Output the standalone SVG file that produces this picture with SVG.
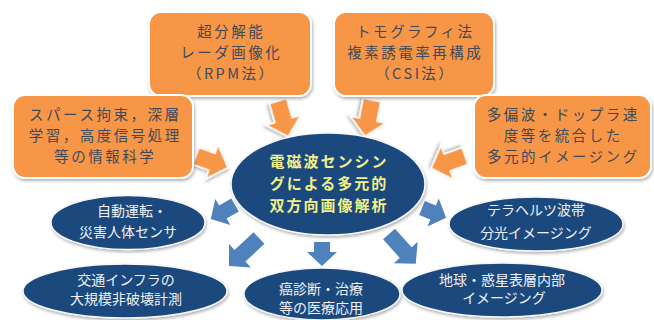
<svg xmlns="http://www.w3.org/2000/svg" width="654" height="320" viewBox="0 0 654 320">
<defs>
<filter id="sh" x="-10%" y="-10%" width="125%" height="130%">
<feDropShadow dx="1" dy="2" stdDeviation="1.5" flood-color="#000" flood-opacity="0.3"/>
</filter>
<style>
.box{fill:#f79646;stroke:#fff;stroke-width:2;filter:url(#sh)}
.ell{fill:#1f497d;stroke:#f4f6f9;stroke-width:1.5;filter:url(#sh)}
.oa{fill:#f79646;stroke:#fff;stroke-width:1.5;filter:url(#sh)}
.ba{fill:#4f81bd;stroke:none}
.t{font-family:"Noto Sans CJK JP","Noto Sans",sans-serif;text-anchor:middle}
.to{font-size:14.5px;letter-spacing:2.5px;fill:#3e4a5a}
.tc{font-size:15px;letter-spacing:2px;font-weight:bold;fill:#f3f08a}
.tb{font-size:14px;fill:#edf1f6}
</style>
</defs>
<rect width="654" height="320" fill="#fff"/>
<g id="connectors">
<polygon class="oa" transform="translate(278,101) rotate(74)" points="0,-9 20,-9 20,-18 37,0 20,18 20,9 0,9"/>
<polygon class="oa" transform="translate(372,100) rotate(101)" points="0,-9 20,-9 20,-18 37,0 20,18 20,9 0,9"/>
<polygon class="oa" transform="translate(196,156) rotate(20)" points="0,-9 17,-9 17,-18 34,0 17,18 17,9 0,9"/>
<polygon class="oa" transform="translate(465,156) rotate(160)" points="0,-9 19,-9 19,-18 36,0 19,18 19,9 0,9"/>
<polygon class="ba" transform="translate(235,205) rotate(150)" points="0,-7.5 14,-7.5 14,-15 28,0 14,15 14,7.5 0,7.5"/>
<polygon class="ba" transform="translate(259,238) rotate(137)" points="0,-8 26,-8 26,-16 41,0 26,16 26,8 0,8"/>
<polygon class="ba" transform="translate(322,242) rotate(90)" points="0,-8 10,-8 10,-15 24,0 10,15 10,8 0,8"/>
<polygon class="ba" transform="translate(389,234) rotate(48)" points="0,-8 25,-8 25,-16 40,0 25,16 25,8 0,8"/>
<polygon class="ba" transform="translate(422,208) rotate(22)" points="0,-7.5 12,-7.5 12,-15 26,0 12,15 12,7.5 0,7.5"/>
</g>
<g id="box-rpm">
<rect class="box" x="149" y="12" width="162" height="84" rx="12"/>
<text class="t to" x="231.25" y="36.5">超分解能</text>
<text class="t to" x="231.25" y="57.5">レーダ画像化</text>
<text class="t to" x="231.25" y="78.5">（RPM法）</text>
</g>
<g id="box-csi">
<rect class="box" x="334" y="12" width="160" height="84" rx="12"/>
<text class="t to" x="415.25" y="36.5">トモグラフィ法</text>
<text class="t to" x="415.25" y="57.5">複素誘電率再構成</text>
<text class="t to" x="415.25" y="78.5">（CSI法）</text>
</g>
<g id="box-sparse">
<rect class="box" x="13" y="95" width="180" height="83" rx="12"/>
<text class="t to" x="105.25" y="119.5">スパース拘束，深層</text>
<text class="t to" x="105.25" y="140.5">学習，高度信号処理</text>
<text class="t to" x="105.25" y="161.5">等の情報科学</text>
</g>
<g id="box-multi">
<rect class="box" x="474" y="95" width="177" height="83" rx="12"/>
<text class="t to" x="563.25" y="119.5">多偏波・ドップラ速</text>
<text class="t to" x="563.25" y="140.5">度等を統合した</text>
<text class="t to" x="563.25" y="161.5">多元的イメージング</text>
</g>
<g id="center">
<ellipse class="ell" cx="328" cy="184" rx="97" ry="51"/>
<text class="t tc" x="329" y="167">電磁波センシン</text>
<text class="t tc" x="329" y="189">グによる多元的</text>
<text class="t tc" x="329" y="211">双方向画像解析</text>
</g>
<g id="app-auto">
<ellipse class="ell" cx="128" cy="222.5" rx="77" ry="27"/>
<text class="t tb" x="132" y="216">自動運転・</text>
<text class="t tb" x="128" y="236.5">災害人体センサ</text>
</g>
<g id="app-infra">
<ellipse class="ell" cx="125" cy="291" rx="102" ry="27"/>
<text class="t tb" x="126" y="285">交通インフラの</text>
<text class="t tb" x="126" y="304">大規模非破壊計測</text>
</g>
<g id="app-medical">
<ellipse class="ell" cx="322" cy="294" rx="78" ry="26"/>
<text class="t tb" x="321" y="294">癌診断・治療</text>
<text class="t tb" x="321" y="312.5">等の医療応用</text>
</g>
<g id="app-thz">
<ellipse class="ell" cx="536" cy="224" rx="87" ry="27"/>
<text class="t tb" x="536" y="215">テラヘルツ波帯</text>
<text class="t tb" x="536" y="237.5">分光イメージング</text>
</g>
<g id="app-earth">
<ellipse class="ell" cx="502" cy="290" rx="100" ry="27"/>
<text class="t tb" x="502" y="284.5">地球・惑星表層内部</text>
<text class="t tb" x="504" y="303">イメージング</text>
</g>
</svg>
